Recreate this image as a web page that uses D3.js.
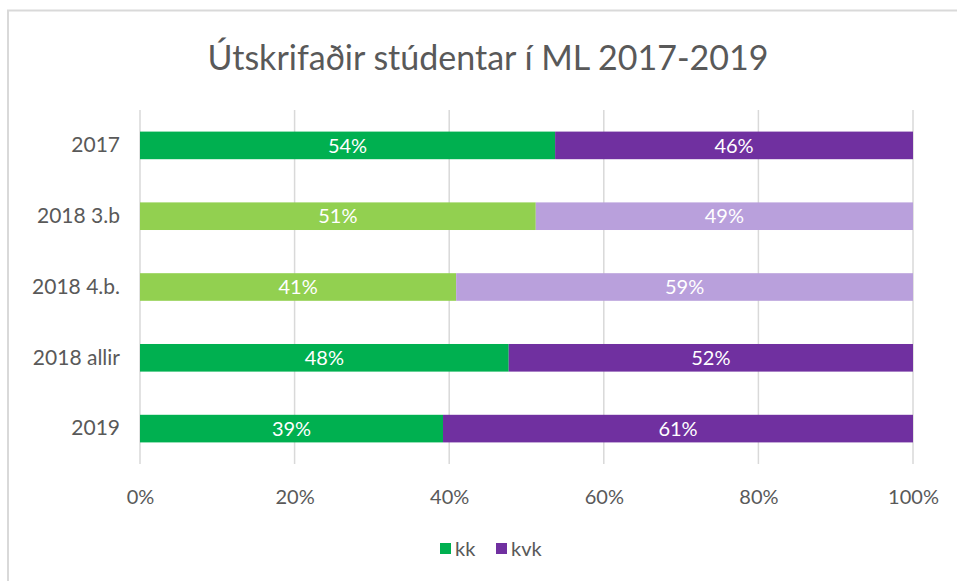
<!DOCTYPE html>
<html>
<head>
<meta charset="utf-8">
<script src="https://cdn.jsdelivr.net/npm/d3@7"></script>
<style>
  body { margin: 0; background: #fff; }
  text { font-family: Lato, "Open Sans", sans-serif; }
</style>
</head>
<body>
<div id="chart"></div>
<script>
// data
const CATEGORIES = ['2017', '2018 3.b', '2018 4.b.', '2018 allir', '2019'];
const KK = [53.7, 51.2, 40.9, 47.7, 39.2];
const KVK = [46.3, 48.8, 59.1, 52.3, 60.8];
const SERIES = ['kk', 'kvk'];
const X_TICKS = [0, 20, 40, 60, 80, 100];

// constants
const FRAME_WIDTH = 957;
const FRAME_HEIGHT = 581;
const MARGINS = {left: 140, right: 44, top: 110, bottom: 117};
const VIS_WIDTH = FRAME_WIDTH - MARGINS.left - MARGINS.right;
const VIS_HEIGHT = FRAME_HEIGHT - MARGINS.top - MARGINS.bottom;
const COLORS = {kk: '#00B050', kvk: '#7030A0'};
const LIGHT = {kk: '#92D050', kvk: '#B9A0DC'};
const LIGHT_ROWS = ['2018 3.b', '2018 4.b.'];
const FONT_SIZE = '20px';

let SVG = d3.select('#chart')
            .append('svg')
            .attr('width', FRAME_WIDTH)
            .attr('height', FRAME_HEIGHT);

// chart border (only top and left show in the crop)
SVG.append('line')
   .attr('x1', 7).attr('x2', FRAME_WIDTH)
   .attr('y1', 10.5).attr('y2', 10.5)
   .attr('stroke', '#D9D9D9').attr('stroke-width', 2);
SVG.append('line')
   .attr('x1', 8).attr('x2', 8)
   .attr('y1', 10).attr('y2', FRAME_HEIGHT)
   .attr('stroke', '#D9D9D9').attr('stroke-width', 2);

// title
SVG.append('text')
   .attr('x', 488)
   .attr('y', 70)
   .attr('text-anchor', 'middle')
   .attr('font-size', '34px')
   .attr('fill', '#595959')
   .text('Útskrifaðir stúdentar í ML 2017-2019');

const xScale = d3.scaleLinear()
                 .domain([0, 100])
                 .range([MARGINS.left, MARGINS.left + VIS_WIDTH]);

const yScale = d3.scaleBand()
                 .domain(CATEGORIES)
                 .range([MARGINS.top, MARGINS.top + VIS_HEIGHT])
                 .paddingInner(0.61)
                 .paddingOuter(0.305);

// gridlines
SVG.append('g')
   .selectAll('line')
   .data(X_TICKS)
   .enter()
   .append('line')
   .attr('x1', d => xScale(d))
   .attr('x2', d => xScale(d))
   .attr('y1', MARGINS.top)
   .attr('y2', MARGINS.top + VIS_HEIGHT)
   .attr('stroke', '#D9D9D9')
   .attr('stroke-width', 1.5);

// x axis labels
let xAxis = SVG.append('g')
   .attr('transform', 'translate(0,' + (MARGINS.top + VIS_HEIGHT) + ')')
   .call(d3.axisBottom(xScale).tickValues(X_TICKS)
           .tickFormat(d => d + '%').tickSize(0).tickPadding(26));
xAxis.select('.domain').remove();
xAxis.selectAll('text')
     .attr('font-family', 'Lato, sans-serif')
     .attr('font-size', FONT_SIZE)
     .attr('fill', '#595959');

// y axis labels
let yAxis = SVG.append('g')
   .attr('transform', 'translate(' + MARGINS.left + ',0)')
   .call(d3.axisLeft(yScale).tickSize(0).tickPadding(20));
yAxis.select('.domain').remove();
yAxis.selectAll('text')
     .attr('font-family', 'Lato, sans-serif')
     .attr('font-size', '21px')
     .attr('fill', '#595959');

// stacked bars
const rows = CATEGORIES.map((c, i) => ({cat: c, kk: KK[i], kvk: KVK[i]}));
const stacked = d3.stack().keys(SERIES)(rows);

stacked.forEach(function (layer) {
    let g = SVG.append('g');
    g.selectAll('rect')
     .data(layer)
     .enter()
     .append('rect')
     .attr('x', d => xScale(d[0]))
     .attr('width', d => xScale(d[1]) - xScale(d[0]))
     .attr('y', d => yScale(d.data.cat))
     .attr('height', yScale.bandwidth())
     .attr('fill', d => LIGHT_ROWS.includes(d.data.cat) ? LIGHT[layer.key] : COLORS[layer.key]);

    g.selectAll('text')
     .data(layer)
     .enter()
     .append('text')
     .attr('x', d => (xScale(d[0]) + xScale(d[1])) / 2)
     .attr('y', d => yScale(d.data.cat) + yScale.bandwidth() / 2)
     .attr('dy', '0.36em')
     .attr('text-anchor', 'middle')
     .attr('font-size', FONT_SIZE)
     .attr('fill', '#fff')
     .text(d => Math.round(d[1] - d[0]) + '%');
});

// legend
const legend = SVG.append('g')
                  .attr('transform', 'translate(440,543)');
const legendX = {kk: 0, kvk: 56};
SERIES.forEach(function (s) {
    legend.append('rect')
          .attr('x', legendX[s])
          .attr('y', 0)
          .attr('width', 11)
          .attr('height', 11)
          .attr('fill', COLORS[s]);
    legend.append('text')
          .attr('x', legendX[s] + 15)
          .attr('y', 13)
          .attr('font-size', FONT_SIZE)
          .attr('fill', '#595959')
          .text(s);
});
</script>
</body>
</html>
